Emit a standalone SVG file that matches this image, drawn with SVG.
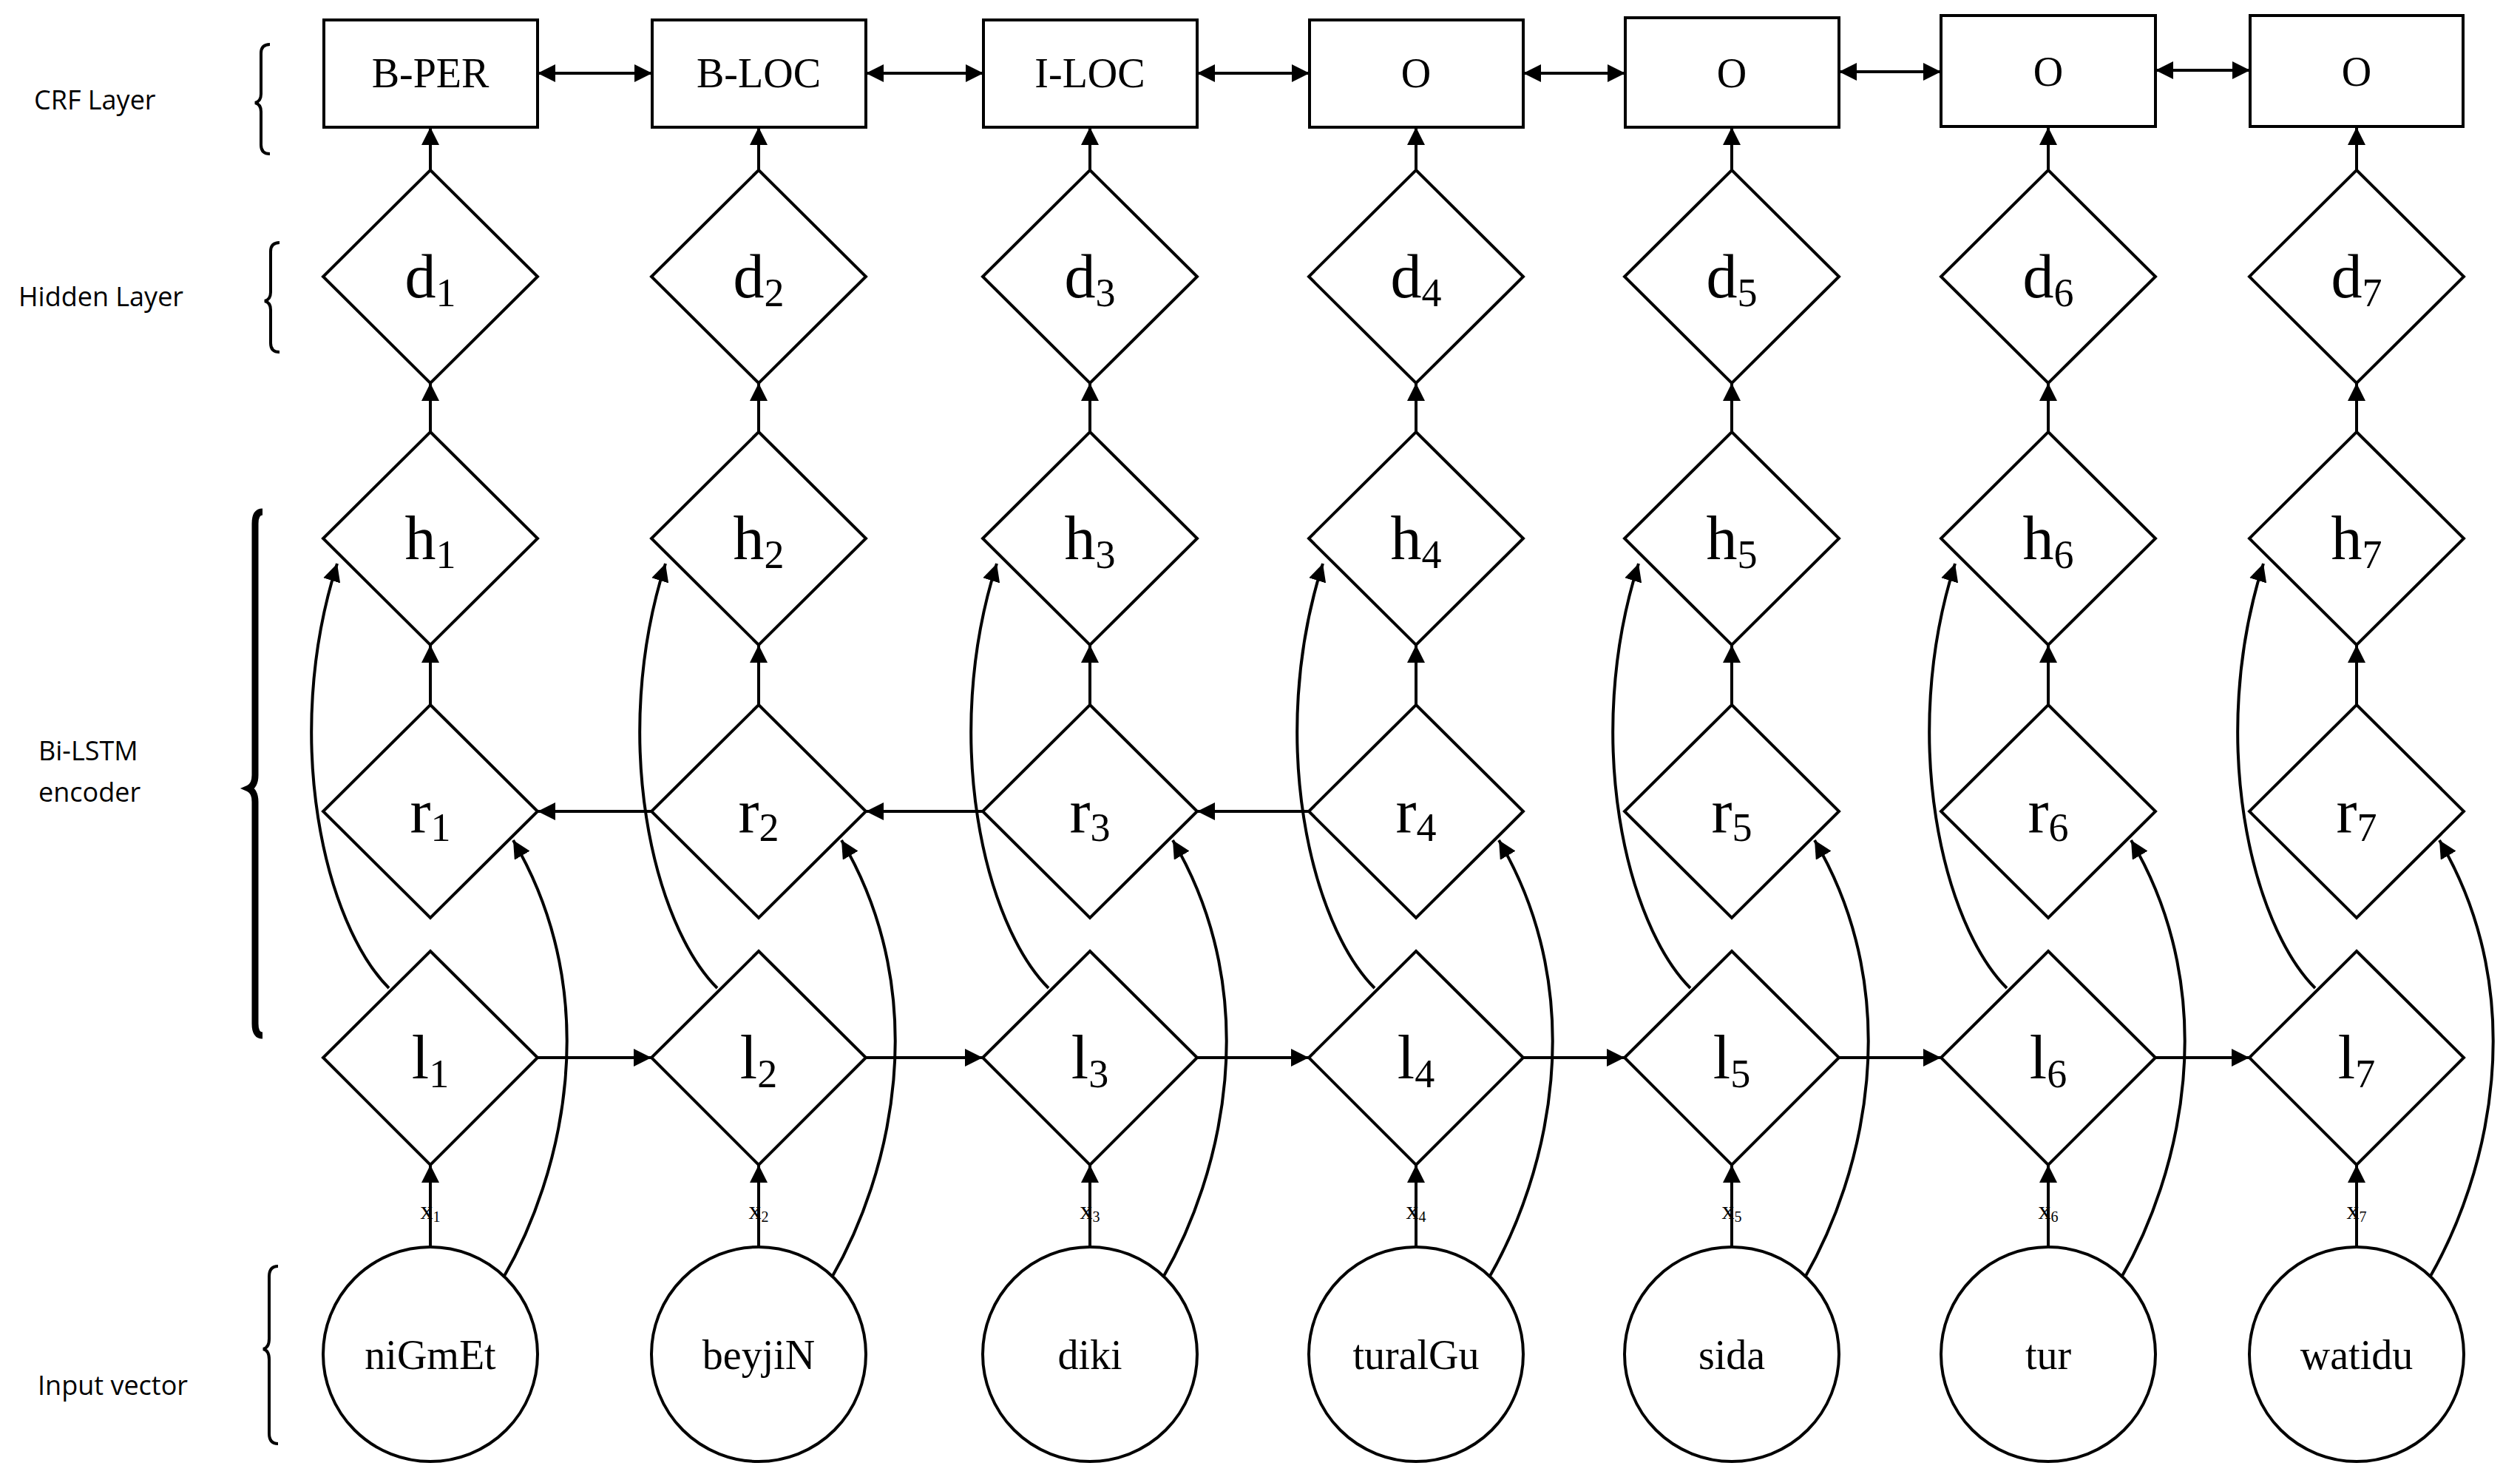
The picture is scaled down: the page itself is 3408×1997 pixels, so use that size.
<svg xmlns="http://www.w3.org/2000/svg" width="3408" height="1997" viewBox="0 0 3408 1997">
<style>
.n{fill:#fff;stroke:#000;stroke-width:4}
.c{fill:none;stroke:#000;stroke-width:4}
.t{font-family:"Liberation Serif",serif;fill:#000;text-anchor:middle}
.l{font-family:"Open Sans","Liberation Sans",sans-serif;font-size:36px;fill:#000}
.b{fill:none;stroke:#000;stroke-width:4}
</style>
<defs>
<marker id="a" viewBox="0 0 10 10" refX="10" refY="5" markerWidth="6" markerHeight="6" orient="auto-start-reverse" markerUnits="strokeWidth"><path d="M0,0L10,5L0,10z" fill="#000"/></marker>
</defs>
<rect width="3408" height="1997" fill="#fff"/>
<g id="labels">
<text class="l" x="46" y="148">CRF Layer</text>
<text class="l" x="25" y="414">Hidden Layer</text>
<text class="l" x="52" y="1028">Bi-LSTM</text>
<text class="l" x="52" y="1084">encoder</text>
<text class="l" x="51" y="1886">Input vector</text>
<path class="b" d="M365,60 q-12,0 -12,12 v55 q0,10 -8,12 q8,2 8,12 v45 q0,12 12,12"/>
<path class="b" d="M378,328 q-12,0 -12,12 v55 q0,10 -8,12 q8,2 8,12 v45 q0,12 12,12"/>
<path d="M355,692 q-10,0 -10,16 v340 q0,14 -9,18 q9,4 9,18 v300 q0,16 10,16" fill="none" stroke="#000" stroke-width="9"/>
<path class="b" d="M376,1712 q-12,0 -12,14 v84 q0,12 -8,14 q8,2 8,14 v100 q0,14 12,14"/>
</g>
<g id="nodes">
<g id="col1">
<rect class="n" x="438" y="27" width="289" height="145"/><text class="t" x="582" y="118" font-size="56">B-PER</text>
<path class="n" d="M582,230L727,374L582,518L437,374z"/><text class="t" x="582" y="402" font-size="84">d<tspan font-size="54" dy="12">1</tspan></text>
<path class="n" d="M582,584L727,728L582,872L437,728z"/><text class="t" x="582" y="756" font-size="84">h<tspan font-size="54" dy="12">1</tspan></text>
<path class="n" d="M582,953L727,1097L582,1241L437,1097z"/><text class="t" x="582" y="1125" font-size="84">r<tspan font-size="54" dy="12">1</tspan></text>
<path class="n" d="M582,1286L727,1430L582,1575L437,1430z"/><text class="t" x="582" y="1458" font-size="84">l<tspan font-size="54" dy="12">1</tspan></text>
<text class="t" x="582" y="1648" font-size="34">x<tspan font-size="20" dy="4">1</tspan></text>
<circle class="n" cx="582" cy="1831" r="145"/><text class="t" x="582" y="1851" font-size="56">niGmEt</text>
</g>
<g id="col2">
<rect class="n" x="882" y="27" width="289" height="145"/><text class="t" x="1026" y="118" font-size="56">B-LOC</text>
<path class="n" d="M1026,230L1171,374L1026,518L881,374z"/><text class="t" x="1026" y="402" font-size="84">d<tspan font-size="54" dy="12">2</tspan></text>
<path class="n" d="M1026,584L1171,728L1026,872L881,728z"/><text class="t" x="1026" y="756" font-size="84">h<tspan font-size="54" dy="12">2</tspan></text>
<path class="n" d="M1026,953L1171,1097L1026,1241L881,1097z"/><text class="t" x="1026" y="1125" font-size="84">r<tspan font-size="54" dy="12">2</tspan></text>
<path class="n" d="M1026,1286L1171,1430L1026,1575L881,1430z"/><text class="t" x="1026" y="1458" font-size="84">l<tspan font-size="54" dy="12">2</tspan></text>
<text class="t" x="1026" y="1648" font-size="34">x<tspan font-size="20" dy="4">2</tspan></text>
<circle class="n" cx="1026" cy="1831" r="145"/><text class="t" x="1026" y="1851" font-size="56">beyjiN</text>
</g>
<g id="col3">
<rect class="n" x="1330" y="27" width="289" height="145"/><text class="t" x="1474" y="118" font-size="56">I-LOC</text>
<path class="n" d="M1474,230L1619,374L1474,518L1329,374z"/><text class="t" x="1474" y="402" font-size="84">d<tspan font-size="54" dy="12">3</tspan></text>
<path class="n" d="M1474,584L1619,728L1474,872L1329,728z"/><text class="t" x="1474" y="756" font-size="84">h<tspan font-size="54" dy="12">3</tspan></text>
<path class="n" d="M1474,953L1619,1097L1474,1241L1329,1097z"/><text class="t" x="1474" y="1125" font-size="84">r<tspan font-size="54" dy="12">3</tspan></text>
<path class="n" d="M1474,1286L1619,1430L1474,1575L1329,1430z"/><text class="t" x="1474" y="1458" font-size="84">l<tspan font-size="54" dy="12">3</tspan></text>
<text class="t" x="1474" y="1648" font-size="34">x<tspan font-size="20" dy="4">3</tspan></text>
<circle class="n" cx="1474" cy="1831" r="145"/><text class="t" x="1474" y="1851" font-size="56">diki</text>
</g>
<g id="col4">
<rect class="n" x="1771" y="27" width="289" height="145"/><text class="t" x="1915" y="118" font-size="56">O</text>
<path class="n" d="M1915,230L2060,374L1915,518L1770,374z"/><text class="t" x="1915" y="402" font-size="84">d<tspan font-size="54" dy="12">4</tspan></text>
<path class="n" d="M1915,584L2060,728L1915,872L1770,728z"/><text class="t" x="1915" y="756" font-size="84">h<tspan font-size="54" dy="12">4</tspan></text>
<path class="n" d="M1915,953L2060,1097L1915,1241L1770,1097z"/><text class="t" x="1915" y="1125" font-size="84">r<tspan font-size="54" dy="12">4</tspan></text>
<path class="n" d="M1915,1286L2060,1430L1915,1575L1770,1430z"/><text class="t" x="1915" y="1458" font-size="84">l<tspan font-size="54" dy="12">4</tspan></text>
<text class="t" x="1915" y="1648" font-size="34">x<tspan font-size="20" dy="4">4</tspan></text>
<circle class="n" cx="1915" cy="1831" r="145"/><text class="t" x="1915" y="1851" font-size="56">turalGu</text>
</g>
<g id="col5">
<rect class="n" x="2198" y="24" width="289" height="148"/><text class="t" x="2342" y="118" font-size="56">O</text>
<path class="n" d="M2342,230L2487,374L2342,518L2197,374z"/><text class="t" x="2342" y="402" font-size="84">d<tspan font-size="54" dy="12">5</tspan></text>
<path class="n" d="M2342,584L2487,728L2342,872L2197,728z"/><text class="t" x="2342" y="756" font-size="84">h<tspan font-size="54" dy="12">5</tspan></text>
<path class="n" d="M2342,953L2487,1097L2342,1241L2197,1097z"/><text class="t" x="2342" y="1125" font-size="84">r<tspan font-size="54" dy="12">5</tspan></text>
<path class="n" d="M2342,1286L2487,1430L2342,1575L2197,1430z"/><text class="t" x="2342" y="1458" font-size="84">l<tspan font-size="54" dy="12">5</tspan></text>
<text class="t" x="2342" y="1648" font-size="34">x<tspan font-size="20" dy="4">5</tspan></text>
<circle class="n" cx="2342" cy="1831" r="145"/><text class="t" x="2342" y="1851" font-size="56">sida</text>
</g>
<g id="col6">
<rect class="n" x="2625" y="21" width="290" height="150"/><text class="t" x="2770" y="116" font-size="56">O</text>
<path class="n" d="M2770,230L2915,374L2770,518L2625,374z"/><text class="t" x="2770" y="402" font-size="84">d<tspan font-size="54" dy="12">6</tspan></text>
<path class="n" d="M2770,584L2915,728L2770,872L2625,728z"/><text class="t" x="2770" y="756" font-size="84">h<tspan font-size="54" dy="12">6</tspan></text>
<path class="n" d="M2770,953L2915,1097L2770,1241L2625,1097z"/><text class="t" x="2770" y="1125" font-size="84">r<tspan font-size="54" dy="12">6</tspan></text>
<path class="n" d="M2770,1286L2915,1430L2770,1575L2625,1430z"/><text class="t" x="2770" y="1458" font-size="84">l<tspan font-size="54" dy="12">6</tspan></text>
<text class="t" x="2770" y="1648" font-size="34">x<tspan font-size="20" dy="4">6</tspan></text>
<circle class="n" cx="2770" cy="1831" r="145"/><text class="t" x="2770" y="1851" font-size="56">tur</text>
</g>
<g id="col7">
<rect class="n" x="3043" y="21" width="288" height="150"/><text class="t" x="3187" y="116" font-size="56">O</text>
<path class="n" d="M3187,230L3332,374L3187,518L3042,374z"/><text class="t" x="3187" y="402" font-size="84">d<tspan font-size="54" dy="12">7</tspan></text>
<path class="n" d="M3187,584L3332,728L3187,872L3042,728z"/><text class="t" x="3187" y="756" font-size="84">h<tspan font-size="54" dy="12">7</tspan></text>
<path class="n" d="M3187,953L3332,1097L3187,1241L3042,1097z"/><text class="t" x="3187" y="1125" font-size="84">r<tspan font-size="54" dy="12">7</tspan></text>
<path class="n" d="M3187,1286L3332,1430L3187,1575L3042,1430z"/><text class="t" x="3187" y="1458" font-size="84">l<tspan font-size="54" dy="12">7</tspan></text>
<text class="t" x="3187" y="1648" font-size="34">x<tspan font-size="20" dy="4">7</tspan></text>
<circle class="n" cx="3187" cy="1831" r="145"/><text class="t" x="3187" y="1851" font-size="56">watidu</text>
</g>
</g>
<g id="connectors" class="c" marker-end="url(#a)">
<path d="M727,99H882" marker-start="url(#a)"/>
<path d="M1171,99H1330" marker-start="url(#a)"/>
<path d="M1619,99H1771" marker-start="url(#a)"/>
<path d="M2060,99H2198" marker-start="url(#a)"/>
<path d="M2487,97H2625" marker-start="url(#a)"/>
<path d="M2915,95H3043" marker-start="url(#a)"/>
<path d="M881,1097H727"/><path d="M1329,1097H1171"/><path d="M1770,1097H1619"/>
<path d="M727,1430H881"/><path d="M1171,1430H1329"/><path d="M1619,1430H1770"/><path d="M2060,1430H2197"/><path d="M2487,1430H2625"/><path d="M2915,1430H3042"/>
<path d="M582,230V172"/><path d="M582,584V518"/><path d="M582,953V872"/><path d="M582,1665V1575"/><path d="M582,1686V1665" marker-end="none"/>
<path d="M1026,230V172"/><path d="M1026,584V518"/><path d="M1026,953V872"/><path d="M1026,1665V1575"/><path d="M1026,1686V1665" marker-end="none"/>
<path d="M1474,230V172"/><path d="M1474,584V518"/><path d="M1474,953V872"/><path d="M1474,1665V1575"/><path d="M1474,1686V1665" marker-end="none"/>
<path d="M1915,230V172"/><path d="M1915,584V518"/><path d="M1915,953V872"/><path d="M1915,1665V1575"/><path d="M1915,1686V1665" marker-end="none"/>
<path d="M2342,230V172"/><path d="M2342,584V518"/><path d="M2342,953V872"/><path d="M2342,1665V1575"/><path d="M2342,1686V1665" marker-end="none"/>
<path d="M2770,230V172"/><path d="M2770,584V518"/><path d="M2770,953V872"/><path d="M2770,1665V1575"/><path d="M2770,1686V1665" marker-end="none"/>
<path d="M3187,230V172"/><path d="M3187,584V518"/><path d="M3187,953V872"/><path d="M3187,1665V1575"/><path d="M3187,1686V1665" marker-end="none"/>
<path d="M526,1336C440,1250 380,1000 456,762"/><path d="M681,1727C760,1590 820,1350 694,1136"/>
<path d="M970,1336C884,1250 824,1000 900,762"/><path d="M1125,1727C1204,1590 1264,1350 1138,1136"/>
<path d="M1418,1336C1332,1250 1272,1000 1348,762"/><path d="M1573,1727C1652,1590 1712,1350 1586,1136"/>
<path d="M1859,1336C1773,1250 1713,1000 1789,762"/><path d="M2014,1727C2093,1590 2153,1350 2027,1136"/>
<path d="M2286,1336C2200,1250 2140,1000 2216,762"/><path d="M2441,1727C2520,1590 2580,1350 2454,1136"/>
<path d="M2714,1336C2628,1250 2568,1000 2644,762"/><path d="M2869,1727C2948,1590 3008,1350 2882,1136"/>
<path d="M3131,1336C3045,1250 2985,1000 3061,762"/><path d="M3286,1727C3365,1590 3425,1350 3299,1136"/>
</g>
</svg>
